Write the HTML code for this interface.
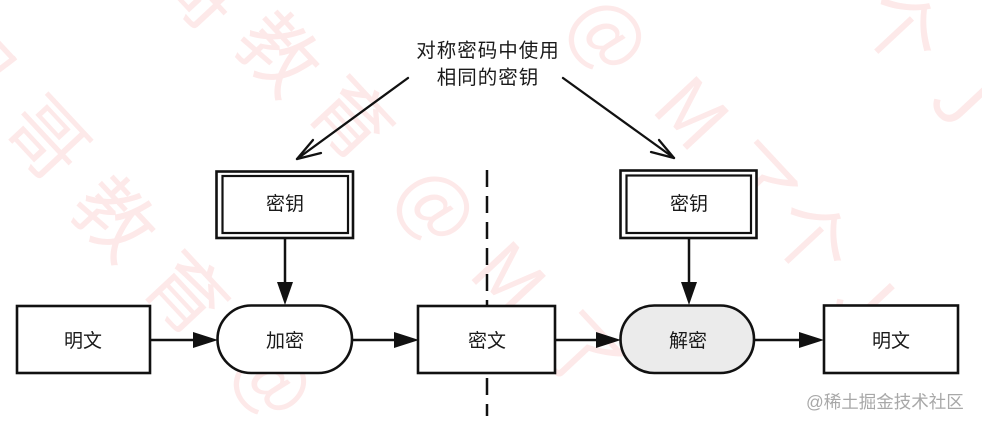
<!DOCTYPE html>
<html>
<head>
<meta charset="utf-8">
<style>
  html,body{margin:0;padding:0;background:#fff;overflow:hidden;}
  body{width:982px;height:428px;overflow:hidden;}
  svg{display:block;overflow:hidden;}
  .t{font-family:"Liberation Sans","Noto Sans CJK SC",sans-serif;fill:#1a1a1a;}
  .wm{font-family:"Noto Sans CJK SC","WenQuanYi Zen Hei",sans-serif;fill:#fde9e9;font-size:78px;}
</style>
</head>
<body>
<svg width="982" height="428" viewBox="0 0 982 428" xmlns="http://www.w3.org/2000/svg">
  <rect x="0" y="0" width="982" height="428" fill="#fff"/>

  <!-- pink watermark (approximate) -->
  <g class="wm" text-anchor="middle" dominant-baseline="central">
    <text x="-22" y="58" transform="rotate(47 -22 58)">码</text>
    <text x="50" y="135" transform="rotate(47 50 135)">哥</text>
    <text x="118" y="215" transform="rotate(47 118 215)">教</text>
    <text x="190" y="290" transform="rotate(47 190 290)">育</text>
    <text x="278" y="375" transform="rotate(47 278 375)">@</text>

    <text x="205" y="-15" transform="rotate(47 205 -15)">哥</text>
    <text x="282" y="50" transform="rotate(47 282 50)">教</text>
    <text x="355" y="115" transform="rotate(47 355 115)">育</text>
    <text x="441" y="201" transform="rotate(47 441 201)">@</text>
    <text x="512" y="275" transform="rotate(47 512 275)">M</text>
    <text x="585" y="350" transform="rotate(47 585 350)">了</text>

    <text x="613" y="30" transform="rotate(47 613 30)">@</text>
    <text x="695" y="110" transform="rotate(47 695 110)">M</text>
    <text x="760" y="180" transform="rotate(47 760 180)">了</text>
    <text x="815" y="235" transform="rotate(47 815 235)">个</text>
    <text x="868" y="295" transform="rotate(47 868 295)">J</text>

    <text x="905" y="25" transform="rotate(47 905 25)">个</text>
    <text x="965" y="95" transform="rotate(47 965 95)">J</text>
  </g>

  <!-- dashed divider -->
  <line x1="487" y1="170" x2="487" y2="416" stroke="#111" stroke-width="2.5" stroke-dasharray="17 9"/>

  <!-- annotation text -->
  <text class="t" x="488" y="57" font-size="19.5" letter-spacing="1" text-anchor="middle">对称密码中使用</text>
  <text class="t" x="488" y="84" font-size="19.5" letter-spacing="1" text-anchor="middle">相同的密钥</text>

  <!-- diagonal arrows with open heads -->
  <g stroke="#111" stroke-width="2.3" fill="none" stroke-linecap="round" stroke-linejoin="round">
    <line x1="408" y1="78" x2="297" y2="159"/>
    <polyline points="313,140 297,159 321,153"/>
    <line x1="563" y1="78" x2="674" y2="158"/>
    <polyline points="651,152 674,158 659,140"/>
  </g>

  <!-- key boxes (double border) -->
  <g fill="#fff" stroke="#111">
    <rect x="216.5" y="171.5" width="136.5" height="66.5" stroke-width="2.6"/>
    <rect x="222.5" y="176" width="125.5" height="57" stroke-width="2.2"/>
    <rect x="620.5" y="170.5" width="136" height="67.5" stroke-width="2.6"/>
    <rect x="626.5" y="175.5" width="124.5" height="57.5" stroke-width="2.2"/>
  </g>
  <text class="t" x="285" y="210" font-size="19" text-anchor="middle">密钥</text>
  <text class="t" x="689" y="210" font-size="19" text-anchor="middle">密钥</text>

  <!-- vertical arrows -->
  <g stroke="#111" stroke-width="2.5">
    <line x1="285" y1="239" x2="285" y2="285"/>
    <line x1="689" y1="239" x2="689" y2="285"/>
  </g>
  <g fill="#111">
    <polygon points="277,282 293,282 285,305"/>
    <polygon points="681,282 697,282 689,305"/>
  </g>

  <!-- process boxes -->
  <g stroke="#111" stroke-width="2.6">
    <rect x="17" y="306" width="133" height="67" fill="#fff"/>
    <rect x="217.5" y="305.5" width="134.5" height="67.5" rx="33.75" fill="#fff"/>
    <rect x="418" y="306" width="137" height="67" fill="#fff"/>
    <rect x="620.5" y="305.5" width="133.5" height="67.5" rx="33.75" fill="#ebebeb"/>
    <rect x="824" y="305.5" width="134" height="67.5" fill="#fff"/>
  </g>

  <!-- horizontal arrows -->
  <g stroke="#111" stroke-width="2.5">
    <line x1="151" y1="340" x2="200" y2="340"/>
    <line x1="353" y1="340" x2="400" y2="340"/>
    <line x1="556" y1="340" x2="603" y2="340"/>
    <line x1="755" y1="340" x2="806" y2="340"/>
  </g>
  <g fill="#111">
    <polygon points="193,332 193,348 218,340"/>
    <polygon points="394,332 394,348 419,340"/>
    <polygon points="596,332 596,348 621,340"/>
    <polygon points="799,332 799,348 824,340"/>
  </g>

  <!-- labels -->
  <g class="t" font-size="19" text-anchor="middle">
    <text x="83" y="347">明文</text>
    <text x="285" y="347">加密</text>
    <text x="487" y="347">密文</text>
    <text x="688" y="347">解密</text>
    <text x="891" y="347">明文</text>
  </g>

  <!-- site watermark -->
  <text x="806" y="408" font-size="17.5" fill="#a8a8a8" font-family="'Liberation Sans','Noto Sans CJK SC',sans-serif">@稀土掘金技术社区</text>
</svg>
</body>
</html>
